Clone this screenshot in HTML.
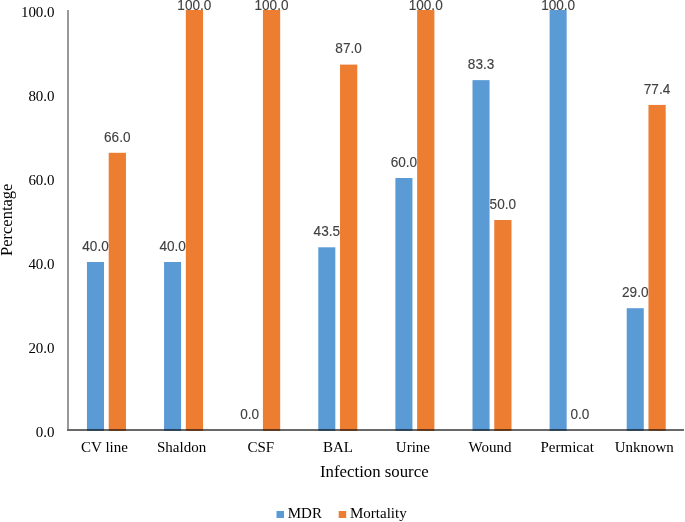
<!DOCTYPE html>
<html><head><meta charset="utf-8"><title>Chart</title>
<style>
html,body{margin:0;padding:0;background:#fff;}
svg{display:block;}
.ax{font-family:"Liberation Serif",serif;font-size:15px;fill:#000;}
.tt{font-family:"Liberation Serif",serif;font-size:16.8px;fill:#000;}
.dl{font-family:"Liberation Sans",sans-serif;font-size:13.8px;fill:#404040;stroke:#404040;stroke-width:0.12px;text-anchor:middle;}
</style></head><body>
<svg width="685" height="522" viewBox="0 0 685 522">
<rect width="685" height="522" fill="#fff"/>

<rect x="86.95" y="262.00" width="17.05" height="168.80" fill="#5B9BD5"/>
<rect x="108.70" y="152.80" width="17.25" height="278.00" fill="#ED7D31"/>
<rect x="164.06" y="262.00" width="17.05" height="168.80" fill="#5B9BD5"/>
<rect x="185.81" y="10.00" width="17.25" height="420.80" fill="#ED7D31"/>
<rect x="262.92" y="10.00" width="17.25" height="420.80" fill="#ED7D31"/>
<rect x="318.28" y="247.30" width="17.05" height="183.50" fill="#5B9BD5"/>
<rect x="340.03" y="64.60" width="17.25" height="366.20" fill="#ED7D31"/>
<rect x="395.39" y="178.00" width="17.05" height="252.80" fill="#5B9BD5"/>
<rect x="417.14" y="10.00" width="17.25" height="420.80" fill="#ED7D31"/>
<rect x="472.50" y="80.14" width="17.05" height="350.66" fill="#5B9BD5"/>
<rect x="494.25" y="220.00" width="17.25" height="210.80" fill="#ED7D31"/>
<rect x="549.61" y="10.00" width="17.05" height="420.80" fill="#5B9BD5"/>
<rect x="626.72" y="308.20" width="17.05" height="122.60" fill="#5B9BD5"/>
<rect x="648.47" y="104.92" width="17.25" height="325.88" fill="#ED7D31"/>
<rect x="67" y="10" width="2" height="419" fill="#000" fill-opacity="0.40"/>
<rect x="67" y="429.05" width="617" height="1.9" fill="#000" fill-opacity="0.62"/>
<text class="dl" transform="translate(95.50,251.00) scale(0.985,1)">40.0</text>
<text class="dl" transform="translate(117.25,142.00) scale(0.985,1)">66.0</text>
<text class="dl" transform="translate(172.61,251.00) scale(0.985,1)">40.0</text>
<text class="dl" transform="translate(194.36,10.00) scale(0.985,1)">100.0</text>
<text class="dl" transform="translate(249.72,419.00) scale(0.985,1)">0.0</text>
<text class="dl" transform="translate(271.47,10.00) scale(0.985,1)">100.0</text>
<text class="dl" transform="translate(326.83,236.00) scale(0.985,1)">43.5</text>
<text class="dl" transform="translate(348.58,53.00) scale(0.985,1)">87.0</text>
<text class="dl" transform="translate(403.94,167.00) scale(0.985,1)">60.0</text>
<text class="dl" transform="translate(425.69,10.00) scale(0.985,1)">100.0</text>
<text class="dl" transform="translate(481.05,69.00) scale(0.985,1)">83.3</text>
<text class="dl" transform="translate(502.80,209.00) scale(0.985,1)">50.0</text>
<text class="dl" transform="translate(558.16,10.00) scale(0.985,1)">100.0</text>
<text class="dl" transform="translate(579.91,419.00) scale(0.985,1)">0.0</text>
<text class="dl" transform="translate(635.27,297.00) scale(0.985,1)">29.0</text>
<text class="dl" transform="translate(657.02,94.00) scale(0.985,1)">77.4</text>
<text class="ax" transform="translate(54.6,436.60) scale(1,1.035)" text-anchor="end">0.0</text>
<text class="ax" transform="translate(54.6,352.60) scale(1,1.035)" text-anchor="end">20.0</text>
<text class="ax" transform="translate(54.6,268.60) scale(1,1.035)" text-anchor="end">40.0</text>
<text class="ax" transform="translate(54.6,184.60) scale(1,1.035)" text-anchor="end">60.0</text>
<text class="ax" transform="translate(54.6,100.60) scale(1,1.035)" text-anchor="end">80.0</text>
<text class="ax" transform="translate(54.6,16.60) scale(1,1.035)" text-anchor="end">100.0</text>
<text class="ax" x="104.50" y="452.2" text-anchor="middle">CV line</text>
<text class="ax" x="181.61" y="452.2" text-anchor="middle">Shaldon</text>
<text class="ax" x="260.82" y="452.2" text-anchor="middle">CSF</text>
<text class="ax" x="338.03" y="452.2" text-anchor="middle">BAL</text>
<text class="ax" x="412.94" y="452.2" text-anchor="middle">Urine</text>
<text class="ax" x="490.05" y="452.2" text-anchor="middle">Wound</text>
<text class="ax" x="567.16" y="452.2" text-anchor="middle">Permicat</text>
<text class="ax" x="644.27" y="452.2" text-anchor="middle">Unknown</text>
<text class="tt" x="374.3" y="477" text-anchor="middle">Infection source</text>
<text class="tt" transform="translate(12.1,219.8) rotate(-90) scale(1,1.05)" text-anchor="middle" style="font-size:16.5px">Percentage</text>
<rect x="276.5" y="511" width="7.5" height="7" fill="#5B9BD5"/>
<text class="ax" x="287.75" y="518.2">MDR</text>
<rect x="338.7" y="511" width="7.5" height="7" fill="#ED7D31"/>
<text class="ax" x="350.0" y="518.2">Mortality</text>
</svg></body></html>
